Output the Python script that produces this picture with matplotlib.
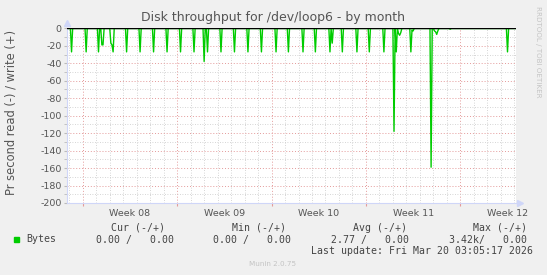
import numpy as np
import matplotlib
matplotlib.use("Agg")
import matplotlib.pyplot as plt

# time axis in days since Mon Feb 16 2026 00:00 (start of week 08)
x_start = -1.17
x_end = 32.13          # last update, Fri Mar 20 03:05
step = 1.0 / 12        # 2 hour consolidation of the month graph

week_starts = [0, 7, 14, 21, 28]
week_labels = ["Week 08", "Week 09", "Week 10", "Week 11", "Week 12"]

# read bytes per second, only the non zero 2h samples
read_days = [-0.825, 0.238, 1.204, 1.389, 1.523, 2.083, 2.167, 2.25,
             3.210, 4.250, 5.238, 6.256, 7.236, 8.247, 9.019, 9.227,
             10.267, 11.256, 12.273, 13.254, 14.294, 15.267, 16.308,
             17.266, 18.306, 18.529, 19.272, 20.312, 21.285, 22.325,
             23.068, 23.284, 23.42, 23.5, 23.58, 24.324, 24.458, 24.532,
             25.810, 26.055, 26.166, 26.278, 26.367, 27.281, 31.478]
read_vals = [27, 27, 27, 19, 19, 17, 19, 27,
             27, 27, 27, 27, 27, 27, 38, 27,
             27, 27, 27, 27, 27, 27, 27,
             27, 27, 17, 27, 27, 27, 27,
             118, 27, 6, 8, 5, 27, 2, 3,
             159, 3, 4, 7, 3, 1, 27]

y_ticks = [0, -20, -40, -60, -80, -100, -120, -140, -160, -180, -200]

# build the 2h series
n0 = int(np.floor(x_start / step))
n1 = int(np.ceil(x_end / step))
idx = np.arange(n0, n1 + 1)
t = idx * step
read = np.zeros(len(idx))
for d, v in zip(read_days, read_vals):
    read[int(round(d / step)) - n0] = v
write = np.zeros(len(idx))

W, H = 547, 275
fig = plt.figure(figsize=(W / 100, H / 100), dpi=100, facecolor="#F0F0F0")
ax = fig.add_axes([67 / W, 1 - 203 / H, (516 - 67) / W, (203 - 28.3) / H])
ax.set_facecolor("white")

txt = "#555555"
ax.set_xlim(x_start, x_end)
ax.set_ylim(-200, 0)

# grid
ax.set_xticks(week_starts)
ax.set_xticks(np.arange(-1, 33), minor=True)
ax.set_yticks(y_ticks)
ax.set_yticks(np.arange(-200, 1, 10), minor=True)
ax.grid(which="minor", color="#c8c8c8", linestyle=(0, (1, 2)), linewidth=0.6)
ax.grid(which="major", color="#e49a9a", linestyle=(0, (1, 2)), linewidth=0.7)
ax.set_axisbelow(True)

ax.set_xticklabels([])
for ws, lab in zip(week_starts, week_labels):
    ax.text(ws + 3.5, -0.035, lab, transform=ax.get_xaxis_transform(),
            ha="center", va="top", fontsize=6.8, color=txt)
ax.set_yticklabels([str(v) for v in y_ticks], fontsize=6.8, color=txt)
ax.tick_params(axis="y", which="both", length=2, color="#bbbbbb", pad=2)
ax.tick_params(axis="x", which="major", length=2, color="#e49a9a", pad=2)
ax.tick_params(axis="x", which="minor", length=0)

for s in ["top", "right"]:
    ax.spines[s].set_visible(False)
for s in ["left", "bottom"]:
    ax.spines[s].set_color("#CFD6F8")
    ax.spines[s].set_linewidth(0.8)
ax.plot(1.01, 0, ">", transform=ax.transAxes, clip_on=False, color="#CFD6F8", markersize=4)
ax.plot(0, 1.03, "^", transform=ax.transAxes, clip_on=False, color="#CFD6F8", markersize=4)

ax.plot(t, write, color="#00CC00", linewidth=1)
ax.plot(t, -read, color="#00CC00", linewidth=1)
ax.axhline(0, color="black", linewidth=1, zorder=5)

# titles
fig.text(273 / W, 1 - 18 / H, "Disk throughput for /dev/loop6 - by month",
         ha="center", va="center", fontsize=9.0, color=txt)
fig.text(11 / W, 1 - 112 / H, "Pr second read (-) / write (+)", rotation=90,
         ha="center", va="center", fontsize=8.3, color=txt)
fig.text(538 / W, 1 - 52 / H, "RRDTOOL / TOBI OETIKER", rotation=270,
         ha="center", va="center", fontsize=5.1, color="#c4c4c4")

# legend block
mono = "DejaVu Sans Mono"
fs = 7.1
def put(x, y, s, color="#444444", size=fs):
    fig.text(x / W, 1 - y / H, s, ha="left", va="center", family=mono,
             fontsize=size, color=color)

put(111, 227.7, "Cur (-/+)")
put(231.7, 227.7, "Min (-/+)")
put(352.7, 227.7, "Avg (-/+)")
put(473.3, 227.7, "Max (-/+)")
fig.patches.append(plt.Rectangle((14 / W, 1 - 242.3 / H), 5.3 / W, 5.3 / H,
                                 transform=fig.transFigure, color="#00CC00"))
put(26.7, 239.5, "Bytes")
put(95.7, 239.5, "0.00 /   0.00")
put(213.3, 239.5, "0.00 /   0.00")
put(331, 239.5, "2.77 /   0.00")
put(449, 239.5, "3.42k/   0.00")
fig.text(532.7 / W, 1 - 251.5 / H, "Last update: Fri Mar 20 03:05:17 2026",
         ha="right", va="center", family=mono, fontsize=fs, color="#444444")
fig.text(272.5 / W, 1 - 264 / H, "Munin 2.0.75", ha="center", va="center",
         fontsize=5.2, color="#c4c4c4")

fig.savefig("out.png", dpi=100, facecolor=fig.get_facecolor())
